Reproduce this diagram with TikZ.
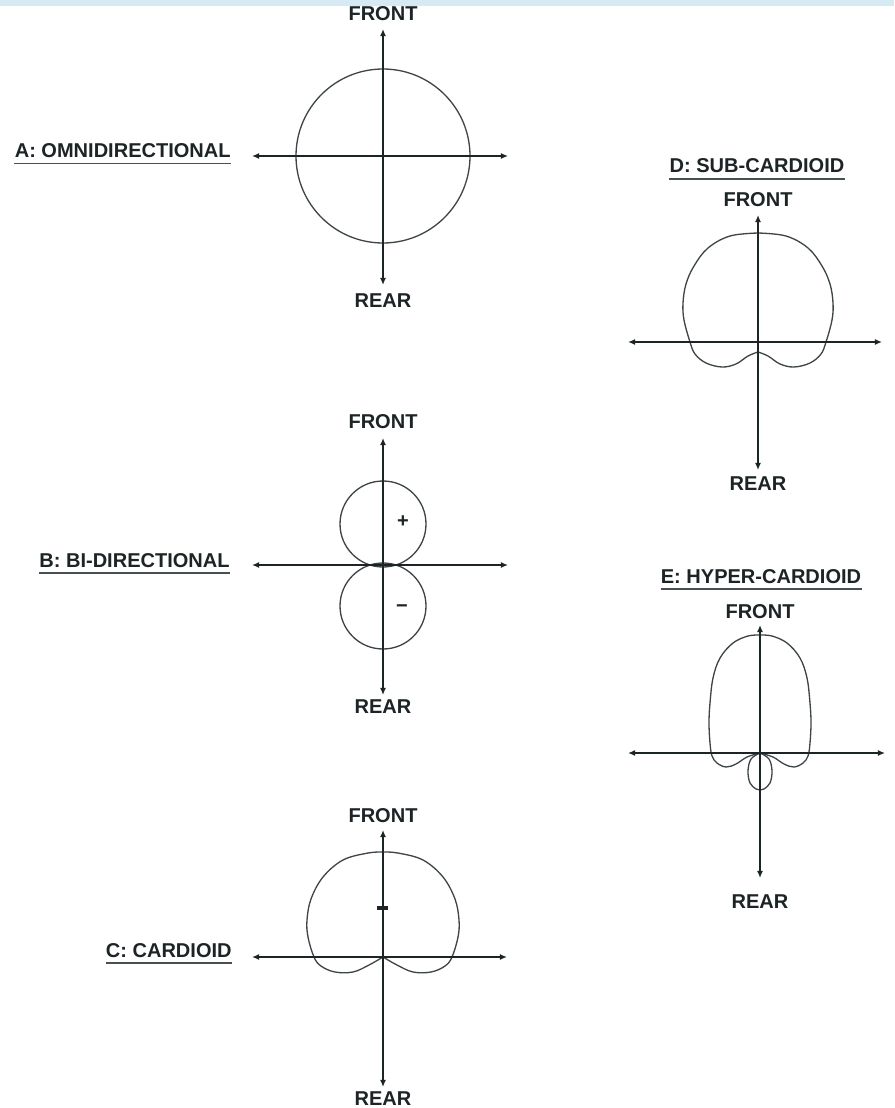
\documentclass[tikz,border=0pt]{standalone}
\usepackage{fontspec}
\setmainfont{Liberation Sans}
\usepackage{tikz}
\usetikzlibrary{arrows.meta,positioning,calc}

\definecolor{ink}{RGB}{28,36,38}
\definecolor{haze}{RGB}{214,234,244}

\tikzset{
  axis/.style={{Latex[length=4pt,width=3.4pt]}-{Latex[length=4pt,width=3.4pt]}, line width=0.9pt, draw=ink},
  lobe/.style={line width=0.75pt, draw=ink!85},
  word/.style={font=\bfseries\fontsize{11.4}{13}\selectfont, text=ink, inner sep=0pt, anchor=base},
  uline/.style={line width=0.9pt, draw=ink!80},
  dashmark/.style={line width=1.8pt, draw=ink},
}

\begin{document}
\begin{tikzpicture}[x=0.02cm, y=-0.02cm]
\useasboundingbox[fill=white] (0,0) rectangle (894,1108);
\fill[haze] (0,0) rectangle (894,6);

% A: omnidirectional
\begin{scope}[shift={(383,156)}]
  \coordinate (A-w) at (-131,0); \coordinate (A-e) at (125,0);
  \coordinate (A-n) at (0,-127); \coordinate (A-s) at (0,129);
  \draw[lobe] (0,0) circle[radius=87];
  \draw[axis] (A-w) -- (A-e);
  \draw[axis] (A-n) -- (A-s);
  \node[word] (A-front) at (0,-135) {FRONT};
  \node[word] (A-rear) at (0,151) {REAR};
  \node[word, anchor=base east] (A-title) at (-152,1.5) {A: OMNIDIRECTIONAL};
  \draw[uline] ([yshift=-3.4pt]A-title.base west) -- ([yshift=-3.4pt]A-title.base east);
\end{scope}

% B: bi-directional
\begin{scope}[shift={(383,565)}]
  \coordinate (B-w) at (-131,0); \coordinate (B-e) at (125,0);
  \coordinate (B-n) at (0,-127); \coordinate (B-s) at (0,130);
  \draw[lobe] (0,-41) circle[radius=43];
  \draw[lobe] (0,41) circle[radius=43];
  \draw[axis] (B-w) -- (B-e);
  \draw[axis] (B-n) -- (B-s);
  \node[word, anchor=center] (B-plus) at (20,-43) {+};
  \node[word, anchor=center] (B-minus) at (19,44) {−};
  \node[word] (B-front) at (0,-137) {FRONT};
  \node[word] (B-rear) at (0,148) {REAR};
  \node[word, anchor=base east] (B-title) at (-153,2) {B: BI-DIRECTIONAL};
  \draw[uline] ([yshift=-3.4pt]B-title.base west) -- ([yshift=-3.4pt]B-title.base east);
\end{scope}

% C: cardioid
\begin{scope}[shift={(383,957)}]
  \coordinate (C-w) at (-131,0); \coordinate (C-e) at (124,0);
  \coordinate (C-n) at (0,-127); \coordinate (C-s) at (0,130);
  \foreach \s in {1,-1}
    \draw[lobe, xscale=\s] plot[smooth, tension=0.6] coordinates {(0,0) (14,8) (30,15) (48,15) (62,9) (69,0) (75,-20) (76,-37) (72,-58) (60,-80) (40,-97) (15,-104) (0,-105)};
  \draw[axis] (C-w) -- (C-e);
  \draw[axis] (C-n) -- (C-s);
  \draw[dashmark] (-6,-49) -- (5,-49);
  \node[word] (C-front) at (0,-135) {FRONT};
  \node[word] (C-rear) at (0,148) {REAR};
  \node[word, anchor=base east] (C-title) at (-151,0) {C: CARDIOID};
  \draw[uline] ([yshift=-3.4pt]C-title.base west) -- ([yshift=-3.4pt]C-title.base east);
\end{scope}

% D: sub-cardioid
\begin{scope}[shift={(758,342)}]
  \coordinate (D-w) at (-130,0); \coordinate (D-e) at (124,0);
  \coordinate (D-n) at (0,-127); \coordinate (D-s) at (0,128);
  \foreach \s in {1,-1}
    \draw[lobe, xscale=\s] plot[smooth, tension=0.6] coordinates {(0,10) (10,14) (22,22) (36,25) (52,21) (63,12) (68,0) (74,-22) (75,-39) (72,-58) (64,-76) (50,-94) (28,-106) (0,-109)};
  \draw[axis] (D-w) -- (D-e);
  \draw[axis] (D-n) -- (D-s);
  \node[word] (D-front) at (0,-135) {FRONT};
  \node[word] (D-rear) at (0,148) {REAR};
  \node[word] (D-title) at (-1,-169) {D: SUB-CARDIOID};
  \draw[uline] ([yshift=-3.4pt]D-title.base west) -- ([yshift=-3.4pt]D-title.base east);
\end{scope}

% E: hyper-cardioid
\begin{scope}[shift={(760,753)}]
  \coordinate (E-w) at (-132,0); \coordinate (E-e) at (125,0);
  \coordinate (E-n) at (0,-128); \coordinate (E-s) at (0,125);
  \foreach \s in {1,-1}
    \draw[lobe, xscale=\s] plot[smooth, tension=0.6] coordinates {(0,0) (13,4) (24,11) (34,14) (43,10) (48,3) (50,-10) (51,-30) (50,-50) (47,-75) (40,-95) (27,-110) (12,-117) (0,-118)};
  \draw[lobe] plot[smooth, tension=0.6] coordinates {(0,0) (-9,6) (-12,18) (-10,30) (-4,36) (0,37) (4,36) (10,30) (12,18) (9,6) (0,0)};
  \draw[axis] (E-w) -- (E-e);
  \draw[axis] (E-n) -- (E-s);
  \node[word] (E-front) at (0,-135) {FRONT};
  \node[word] (E-rear) at (0,155) {REAR};
  \node[word] (E-title) at (1,-170) {E: HYPER-CARDIOID};
  \draw[uline] ([yshift=-3.4pt]E-title.base west) -- ([yshift=-3.4pt]E-title.base east);
\end{scope}
\end{tikzpicture}
\end{document}
